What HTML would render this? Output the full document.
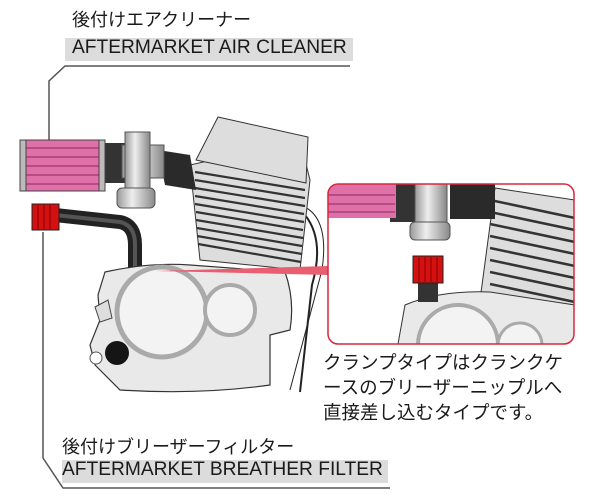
<!DOCTYPE html>
<html><head><meta charset="utf-8"><style>
html,body{margin:0;padding:0;background:#fff;}
body{width:600px;height:500px;position:relative;overflow:hidden;font-family:"Liberation Sans","Noto Sans CJK JP",sans-serif;}
.t{position:absolute;white-space:nowrap;color:#1a1a1a;}
</style></head><body>
<svg width="600" height="500" style="position:absolute;left:0;top:0">
<defs>
<linearGradient id="sil" x1="0" x2="1"><stop offset="0" stop-color="#999"/><stop offset=".4" stop-color="#eee"/><stop offset="1" stop-color="#888"/></linearGradient>
<clipPath id="ins"><rect x="328" y="184" width="246" height="160" rx="10"/></clipPath>
</defs>
<rect x="65" y="38" width="288" height="23" fill="#dcdcdc"/>
<rect x="62" y="460" width="326" height="23" fill="#dcdcdc"/>
<polyline points="350,66 65,66 49,81 49,140" fill="none" stroke="#555" stroke-width="1.5"/>
<polyline points="43,232 43,458 63,488 390,488" fill="none" stroke="#555" stroke-width="1.5"/>
<path d="M300,205 Q330,215 322,270 L290,390" fill="none" stroke="#222" stroke-width="1"/>
<path d="M305,215 Q325,240 312,285 L300,392" fill="none" stroke="#222" stroke-width="2"/>
<polygon points="190,165 200,260 300,270 310,180 300,140" fill="#ddd" stroke="#333"/>
<g stroke="#333" stroke-width="2.2">
<line x1="195" y1="172" x2="305" y2="190"/><line x1="195" y1="180" x2="305" y2="198"/><line x1="195" y1="188" x2="305" y2="206"/><line x1="195" y1="196" x2="304" y2="214"/><line x1="195" y1="204" x2="304" y2="222"/><line x1="196" y1="212" x2="303" y2="230"/><line x1="196" y1="220" x2="303" y2="238"/><line x1="197" y1="228" x2="302" y2="246"/><line x1="197" y1="236" x2="302" y2="254"/><line x1="198" y1="244" x2="301" y2="262"/>
</g>
<polygon points="218,117 308,137 306,183 196,160" fill="#ddd" stroke="#333"/>
<polygon points="158,150 190,155 196,190 165,185" fill="#2a2a2a"/>
<rect x="105" y="143" width="20" height="40" fill="#333"/>
<rect x="122" y="145" width="42" height="33" fill="url(#sil)" stroke="#555"/>
<rect x="125" y="132" width="25" height="60" fill="url(#sil)" stroke="#555"/>
<rect x="117" y="188" width="38" height="20" rx="5" fill="url(#sil)" stroke="#555"/>
<rect x="20" y="140" width="85" height="51" fill="#e070a8" stroke="#444"/>
<g stroke="#8a2a60" stroke-width="1"><line x1="26" y1="148" x2="100" y2="148"/><line x1="26" y1="157" x2="100" y2="157"/><line x1="26" y1="166" x2="100" y2="166"/><line x1="26" y1="175" x2="100" y2="175"/><line x1="26" y1="184" x2="100" y2="184"/></g>
<rect x="20" y="140" width="6" height="51" fill="#bbb" stroke="#444"/><rect x="99" y="140" width="6" height="51" fill="#bbb" stroke="#444"/>
<path d="M55,215 L120,222 Q135,225 135,245 L135,272" fill="none" stroke="#222" stroke-width="14"/>
<path d="M55,215 L120,222 Q135,225 135,245 L135,272" fill="none" stroke="#555" stroke-width="4"/>
<rect x="32" y="204" width="27" height="26" fill="#d41010" stroke="#222"/>
<g stroke="#8a0000"><line x1="38" y1="205" x2="38" y2="229"/><line x1="44" y1="205" x2="44" y2="229"/><line x1="50" y1="205" x2="50" y2="229"/></g>
<path d="M105,272 Q150,262 190,265 L285,272 Q295,300 290,330 L270,335 L270,385 Q200,395 120,390 L95,365 L90,345 L100,320 L98,295 Z" fill="#e9e9e9" stroke="#333" stroke-width="1.2"/>
<circle cx="162" cy="312" r="45" fill="#f3f3f3" stroke="#aaa" stroke-width="5"/>
<circle cx="230" cy="310" r="25" fill="#f3f3f3" stroke="#aaa" stroke-width="4"/>
<circle cx="117" cy="353" r="12" fill="#151515"/>
<circle cx="96" cy="358" r="6" fill="#fff" stroke="#555"/>
<polygon points="95,307 108,300 112,318 100,322" fill="#ddd" stroke="#444"/>
<polygon points="155,271 328,266 328,275" fill="#e86070"/>
<g clip-path="url(#ins)">
<rect x="328" y="184" width="246" height="160" fill="#fff"/>
<polygon points="495,188 575,200 575,344 480,300" fill="#ddd" stroke="#333"/>
<g stroke="#333" stroke-width="2.5">
<line x1="490" y1="200" x2="575" y2="218"/><line x1="490" y1="212" x2="575" y2="230"/><line x1="490" y1="224" x2="575" y2="242"/><line x1="490" y1="236" x2="575" y2="254"/><line x1="490" y1="248" x2="575" y2="266"/><line x1="490" y1="260" x2="575" y2="278"/><line x1="490" y1="272" x2="575" y2="290"/><line x1="490" y1="284" x2="575" y2="302"/>
</g>
<rect x="450" y="184" width="45" height="35" fill="#2a2a2a"/>
<rect x="390" y="184" width="25" height="38" fill="#333"/>
<rect x="415" y="184" width="32" height="48" fill="url(#sil)" stroke="#555"/>
<rect x="410" y="222" width="40" height="18" rx="5" fill="url(#sil)" stroke="#555"/>
<rect x="328" y="184" width="68" height="34" fill="#e070a8"/>
<g stroke="#8a2a60"><line x1="328" y1="195" x2="395" y2="195"/><line x1="328" y1="204" x2="395" y2="204"/><line x1="328" y1="212" x2="395" y2="212"/></g>
<path d="M405,305 Q440,290 490,292 L575,305 L575,344 L398,344 Z" fill="#e9e9e9" stroke="#333"/>
<circle cx="458" cy="345" r="40" fill="#f3f3f3" stroke="#aaa" stroke-width="4"/>
<circle cx="520" cy="345" r="22" fill="#f3f3f3" stroke="#aaa" stroke-width="3"/>
<rect x="418" y="282" width="20" height="20" fill="#333"/>
<rect x="413" y="256" width="30" height="27" fill="#d41010" stroke="#222"/>
<g stroke="#8a0000"><line x1="419" y1="257" x2="419" y2="282"/><line x1="425" y1="257" x2="425" y2="282"/><line x1="431" y1="257" x2="431" y2="282"/><line x1="437" y1="257" x2="437" y2="282"/></g>
</g>
<rect x="328" y="184" width="246" height="160" rx="10" fill="none" stroke="#d8283c" stroke-width="1.5"/>
</svg>
<div class="t" style="left:72px;top:6px;font-size:18px;">後付けエアクリーナー</div>
<div class="t" style="left:72px;top:37px;font-size:19.2px;">AFTERMARKET AIR CLEANER</div>
<div class="t" style="left:62px;top:433px;font-size:18px;">後付けブリーザーフィルター</div>
<div class="t" style="left:62px;top:459px;font-size:19.2px;">AFTERMARKET BREATHER FILTER</div>
<div class="t" style="left:323px;top:350px;font-size:18.5px;line-height:25px;">クランプタイプはクランクケ<br>ースのブリーザーニップルへ<br>直接差し込むタイプです。</div>
</body></html>
